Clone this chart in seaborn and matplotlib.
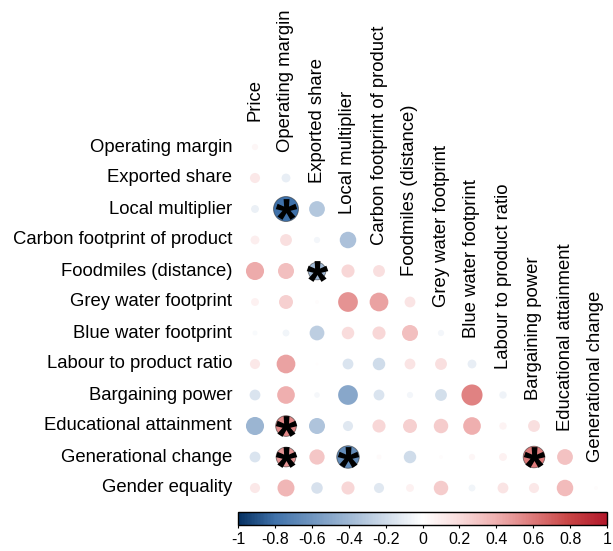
import numpy as np
import pandas as pd
import matplotlib
matplotlib.use('Agg')
import matplotlib.pyplot as plt
import seaborn as sns
from matplotlib.colors import LinearSegmentedColormap, Normalize
from matplotlib.cm import ScalarMappable
from matplotlib.textpath import TextPath
from matplotlib.font_manager import FontProperties
from matplotlib.path import Path

# 行/列变量
row_labels = ['Operating margin', 'Exported share', 'Local multiplier',
              'Carbon footprint of product', 'Foodmiles (distance)',
              'Grey water footprint', 'Blue water footprint',
              'Labour to product ratio', 'Bargaining power',
              'Educational attainment', 'Generational change', 'Gender equality']
col_labels = ['Price', 'Operating margin', 'Exported share', 'Local multiplier',
              'Carbon footprint of product', 'Foodmiles (distance)',
              'Grey water footprint', 'Blue water footprint',
              'Labour to product ratio', 'Bargaining power',
              'Educational attainment', 'Generational change']

# 下三角相关系数（按行）
corr_rows = [
    [0.05],
    [0.13, -0.10],
    [-0.08, -0.80, -0.32],
    [0.10, 0.18, -0.05, -0.35],
    [0.42, 0.33, -0.40, 0.22, 0.18],
    [0.08, 0.25, 0.02, 0.50, 0.45, 0.15],
    [-0.03, -0.06, -0.28, 0.20, 0.22, 0.33, -0.05],
    [0.13, 0.45, 0.01, -0.15, -0.20, 0.15, 0.18, -0.10],
    [-0.15, 0.40, -0.04, -0.50, -0.15, -0.05, -0.18, 0.57, -0.07],
    [-0.42, 0.55, -0.33, -0.13, 0.22, 0.25, 0.27, 0.40, 0.07, 0.18],
    [-0.15, 0.50, 0.30, -0.65, 0.03, -0.20, 0.02, 0.05, 0.08, 0.60, 0.32],
    [0.13, 0.37, -0.17, 0.22, -0.13, 0.08, 0.27, -0.06, 0.15, 0.13, 0.35, 0.02],
]

# 显著性标记 (行, 列)
significant = [
    ('Local multiplier', 'Operating margin'),
    ('Foodmiles (distance)', 'Exported share'),
    ('Educational attainment', 'Operating margin'),
    ('Generational change', 'Operating margin'),
    ('Generational change', 'Local multiplier'),
    ('Generational change', 'Bargaining power'),
]

cbar_ticks = [-1, -0.8, -0.6, -0.4, -0.2, 0, 0.2, 0.4, 0.6, 0.8, 1]

# 长表
records = []
for i, vals in enumerate(corr_rows):
    for j, v in enumerate(vals):
        records.append({'row': row_labels[i], 'col': col_labels[j],
                        'x': j, 'y': i, 'r': v, 'absr': abs(v),
                        'sig': (row_labels[i], col_labels[j]) in significant})
df = pd.DataFrame(records)

cmap = LinearSegmentedColormap.from_list('corr', [
    (0.0, '#053061'), (0.1, '#4072AA'), (0.5, '#FFFFFF'),
    (0.6, '#F9DCDC'), (0.7, '#EFB0B0'), (0.8, '#DD7A7A'),
    (0.9, '#C84444'), (1.0, '#B2182B')])

# 粗体星号作为标记（按实际轮廓居中）
tp = TextPath((0, 0), '*', size=1, prop=FontProperties(family='Liberation Sans', weight='bold'))
v = tp.vertices.copy()
real = tp.codes != Path.CLOSEPOLY
v -= (v[real].max(axis=0) + v[real].min(axis=0)) / 2
v[~real] = v[real][0]
star = Path(v, tp.codes)

plt.rcParams['font.family'] = ['Liberation Sans', 'DejaVu Sans']

fig = plt.figure(figsize=(6.13, 5.51), dpi=100)
ax = fig.add_axes([239.5 / 613, 1 - 503.5 / 551, 372 / 613, 372 / 551])

cell_pt = 31 * 72 / 100
smax = (0.9 * cell_pt) ** 2
sns.scatterplot(data=df, x='x', y='y', hue='r', palette=cmap, hue_norm=(-1, 1),
                size='absr', sizes=(0, smax), size_norm=(0, 1),
                linewidth=0, legend=False, ax=ax)

sig = df[df['sig']]
ax.scatter(sig['x'], sig['y'], s=sig['absr'] * smax, facecolors='none',
           edgecolors='#2a2a2a', linewidths=0.6, alpha=0.6)
ax.scatter(sig['x'], sig['y'], marker=star, s=240, color='black', linewidths=0)

ax.set_xlim(-0.5, len(col_labels) - 0.5)
ax.set_ylim(len(row_labels) - 0.5, -0.5)
ax.axis('off')

fs = 13.3
for i, lab in enumerate(row_labels):
    ax.text(-0.74, i, lab, ha='right', va='center', fontsize=fs, clip_on=False)
for j, lab in enumerate(col_labels):
    ax.text(j, j - 0.85, lab, ha='center', va='bottom', rotation=90,
            fontsize=fs, clip_on=False)

# 颜色条
cax = fig.add_axes([238 / 613, 1 - 525 / 551, 369 / 613, 13 / 551])
sm = ScalarMappable(norm=Normalize(-1, 1), cmap=cmap)
cb = fig.colorbar(sm, cax=cax, orientation='horizontal', ticks=cbar_ticks)
cb.ax.set_xticklabels([f'{t:g}' for t in cbar_ticks])
cb.ax.tick_params(labelsize=11.5, length=2, width=0.8, pad=3)
cb.outline.set_linewidth(1)

fig.savefig('out.png', dpi=100)
